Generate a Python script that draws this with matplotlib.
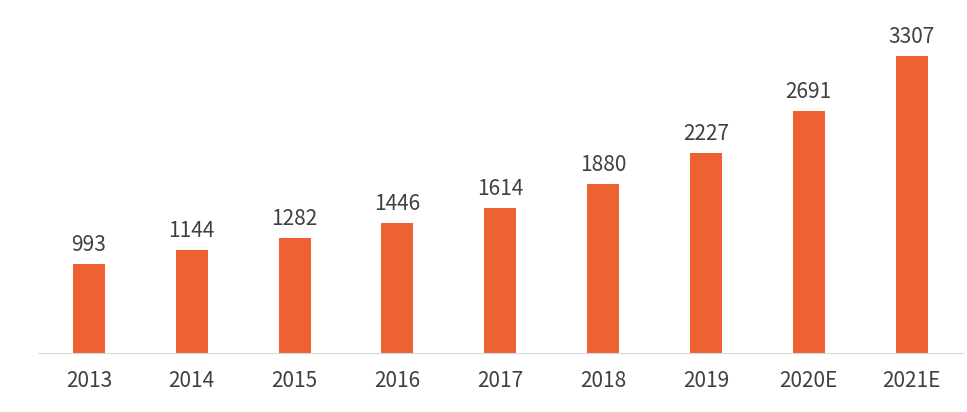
import matplotlib
matplotlib.use("Agg")
import matplotlib.pyplot as plt

years = ["2013","2014","2015","2016","2017","2018","2019","2020E","2021E"]
values = [993,1144,1282,1446,1614,1880,2227,2691,3307]

plt.rcParams['font.family'] = ['Noto Sans CJK SC', 'DejaVu Sans']
fig = plt.figure(figsize=(9.67,4.12), dpi=100)
ax = fig.add_axes([37.5/967, 59/412, (963-37.5)/967, 353/412])
x = range(len(years))
ax.bar(x, values, width=0.31, color="#EE6231")
for i, v in zip(x, values):
    ax.text(i, v + 90, str(v), ha="center", va="bottom", fontsize=15, color="#404040")
ax.set_xlim(-0.5, len(years)-0.5)
ax.set_ylim(0, 3930)
ax.set_xticks(list(x))
ax.set_xticklabels(years, fontsize=15, color="#404040")
ax.tick_params(axis="x", length=0, pad=12)
ax.set_yticks([])
for s in ["top","right","left"]:
    ax.spines[s].set_visible(False)
ax.spines["bottom"].set_color("#d9d9d9")
fig.savefig("out.png", dpi=100)
